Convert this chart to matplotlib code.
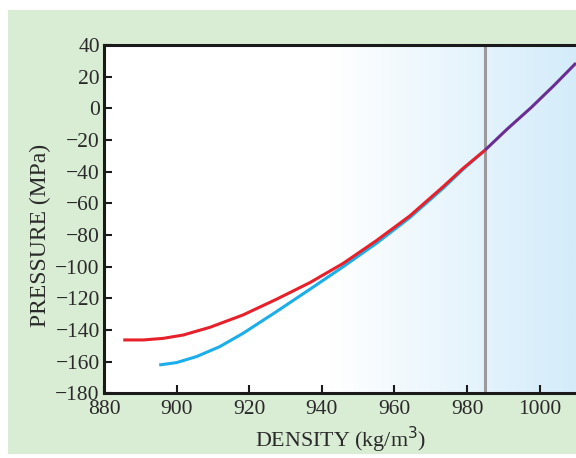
import numpy as np
import matplotlib
matplotlib.use("Agg")
import matplotlib.pyplot as plt
from matplotlib.patches import Rectangle
from matplotlib.colors import LinearSegmentedColormap

# Data
red_x = [885.3, 890.8, 896.3, 901.8, 909.2, 918.3, 927.5, 936.7, 945.9, 955.0, 964.2, 973.4, 978.9, 985.0]
red_y = [-146.3, -146.3, -145.3, -143.2, -138.3, -130.5, -120.6, -110.1, -97.9, -83.6, -68.0, -49.5, -37.9, -26.3]
blue_x = [895.2, 900.0, 905.5, 911.9, 918.3, 927.5, 936.7, 945.9, 955.0, 964.2, 973.4, 978.9, 985.0]
blue_y = [-162.1, -160.6, -156.8, -150.5, -142.1, -128.4, -114.3, -100.0, -85.3, -69.1, -50.5, -38.5, -26.3]
purple_x = [985.0, 991.0, 997.7, 1004.0, 1010.0]
purple_y = [-26.3, -13.2, 0.6, 14.6, 28.6]
x_ticks = [880, 900, 920, 940, 960, 980, 1000]
y_ticks = [40, 20, 0, -20, -40, -60, -80, -100, -120, -140, -160, -180]
vline_x = 985

plt.rcParams['font.family'] = ['Liberation Serif', 'DejaVu Serif']
W, H = 576, 458
fig = plt.figure(figsize=(W / 100, H / 100), dpi=100)
fig.patch.set_facecolor('white')
fig.patches.append(Rectangle((8 / W, (H - 454) / H), (W - 8) / W, 444 / H,
                             transform=fig.transFigure, facecolor='#d9ecd4',
                             edgecolor='none', zorder=-10))

left, right, top, bottom = 104, 576, 45, 393.3
ax = fig.add_axes([left / W, (H - bottom) / H, (right - left) / W, (bottom - top) / H])

cmap = LinearSegmentedColormap.from_list('g', [(0, '#ffffff'), (0.48, '#ffffff'),
                                               (0.83, '#e1f2fc'), (1.0, '#d4ecfa')])
grad = np.linspace(0, 1, 512).reshape(1, -1)
ax.imshow(grad, extent=[880, 1010, -180, 40], aspect='auto', cmap=cmap, zorder=0)
ax.set_xlim(880, 1010)
ax.set_ylim(-180, 40)

ax.axvline(vline_x, color='#9a9a9a', lw=2.2, zorder=2)
ax.plot(blue_x, blue_y, color='#1aaeea', lw=2.2, zorder=3, solid_capstyle='butt')
ax.plot(red_x, red_y, color='#e8202a', lw=2.2, zorder=4, solid_capstyle='butt')
ax.plot(purple_x, purple_y, color='#6a2e93', lw=2.2, zorder=4, solid_capstyle='butt')

for s in ['left', 'bottom', 'top']:
    ax.spines[s].set_linewidth(2.2)
    ax.spines[s].set_color('#1a1a1a')
ax.spines['right'].set_visible(False)

ax.set_xticks(x_ticks)
ax.set_yticks(y_ticks)
ax.set_xticklabels([str(v) for v in x_ticks])
ax.set_yticklabels([str(v).replace('-', '\u2212') for v in y_ticks])
ax.tick_params(direction='in', length=6, width=1.5, color='#1a1a1a',
               labelsize=15.5, labelcolor='#2a2a2a', pad=3)
ax.tick_params(axis='x', pad=5)

ax.set_xlabel('DENSITY (kg/m$^3$)', fontsize=15.8, color='#2a2a2a')
ax.xaxis.set_label_coords((341 - left) / (right - left), -(440 - bottom) / (bottom - top))
ax.xaxis.label.set_va('center')
ax.set_ylabel('PRESSURE (MPa)', fontsize=17, color='#2a2a2a')
ax.yaxis.set_label_coords((40 - left) / (right - left), (bottom - 235) / (bottom - top))
ax.yaxis.label.set_va('center')

fig.savefig('out.png', dpi=100)
